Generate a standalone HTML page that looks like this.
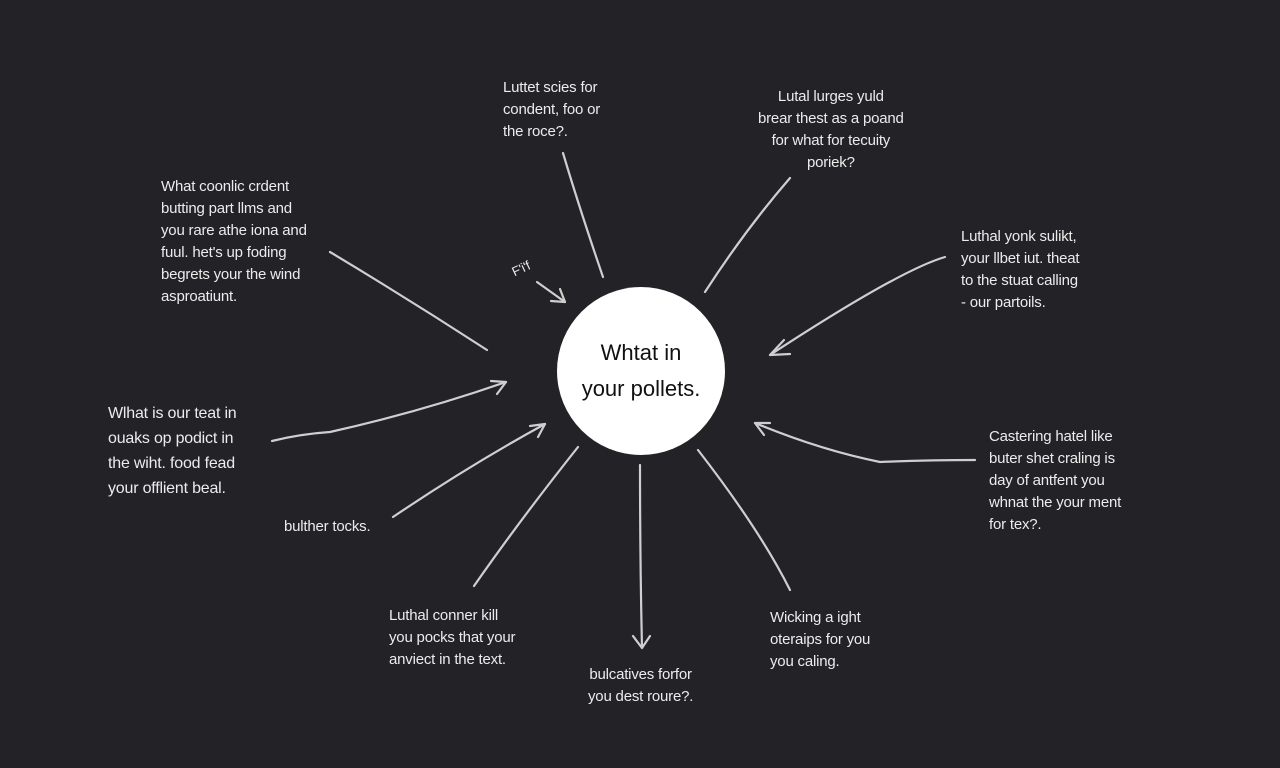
<!DOCTYPE html>
<html><head><style>
html,body{margin:0;padding:0;}
body{width:1280px;height:768px;background:#222227;position:relative;overflow:hidden;font-family:"Liberation Sans",sans-serif;color:#ececec;}
.t{position:absolute;font-size:15px;line-height:22px;white-space:nowrap;letter-spacing:-0.2px;}
.c{position:absolute;left:557px;top:287px;width:168px;height:168px;border-radius:50%;background:#fff;color:#111;font-size:22px;line-height:36px;text-align:center;display:flex;align-items:center;justify-content:center;}
</style></head><body>
<svg width="1280" height="768" style="position:absolute;left:0;top:0" fill="none" stroke="#cfcfcf" stroke-width="2.2" stroke-linecap="round" stroke-linejoin="round">
<path d="M563 153 Q580 210 603 277"/>
<path d="M790 178 Q745 230 705 292"/>
<path d="M945 257 Q900 270 770 355"/><path d="M784 340 L770 355 L790 354"/>
<path d="M975 460 Q930 460 880 462 Q820 450 755 423"/><path d="M770 423 L755 423 L764 435"/>
<path d="M698 450 Q760 530 790 590"/>
<path d="M640 465 Q640 560 642 648"/><path d="M633 636 L642 648 L650 636"/>
<path d="M578 447 Q520 520 474 586"/>
<path d="M393 517 Q470 465 545 424"/><path d="M530 426 L545 424 L538 437"/>
<path d="M272 441 Q300 434 330 432 Q420 412 506 382"/><path d="M491 381 L506 382 L497 394"/>
<path d="M330 252 Q410 300 487 350"/>
<path d="M537 282 L565 302"/><path d="M551 301 L565 302 L560 289"/>
</svg>
<div class="c">Whtat in<br>your pollets.</div>
<div class="t" style="left:503px;top:77px">Luttet scies for<br>condent, foo or<br>the roce?.</div>
<div class="t" style="left:758px;top:86px;text-align:center">Lutal lurges yuld<br>brear thest as a poand<br>for what for tecuity<br>poriek?</div>
<div class="t" style="left:161px;top:176px">What coonlic crdent<br>butting part llms and<br>you rare athe iona and<br>fuul. het's up foding<br>begrets your the wind<br>asproatiunt.</div>
<div class="t" style="left:512px;top:258px;font-size:13px;transform:rotate(-25deg)">F'i'f</div>
<div class="t" style="left:961px;top:226px">Luthal yonk sulikt,<br>your llbet iut. theat<br>to the stuat calling<br>- our partoils.</div>
<div class="t" style="left:108px;top:401px;font-size:16px;line-height:25px">Wlhat is our teat in<br>ouaks op podict in<br>the wiht. food fead<br>your offlient beal.</div>
<div class="t" style="left:989px;top:426px">Castering hatel like<br>buter shet craling is<br>day of antfent you<br>whnat the your ment<br>for tex?.</div>
<div class="t" style="left:284px;top:516px">bulther tocks.</div>
<div class="t" style="left:389px;top:605px">Luthal conner kill<br>you pocks that your<br>anviect in the text.</div>
<div class="t" style="left:770px;top:607px">Wicking a ight<br>oteraips for you<br>you caling.</div>
<div class="t" style="left:588px;top:664px;text-align:center">bulcatives forfor<br>you dest roure?.</div>
</body></html>
